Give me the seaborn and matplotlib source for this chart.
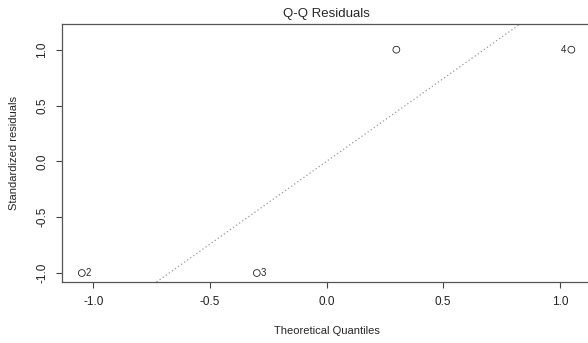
import numpy as np
import pandas as pd
import seaborn as sns
import matplotlib.pyplot as plt

# Q-Q plot of standardized residuals (R style)
theoretical = [-1.049, -0.299, 0.299, 1.049]
residuals = [-1.0, -1.0, 1.0, 1.0]
obs_labels = ["2", "3", "", "4"]

df = pd.DataFrame({'theoretical': theoretical, 'residuals': residuals, 'label': obs_labels})

sns.set_style('white')
plt.rcParams['font.family'] = ['Liberation Sans', 'DejaVu Sans']

fig = plt.figure(figsize=(5.88, 3.43), dpi=100)
ax = fig.add_axes([0.1054, 0.178, 0.9, 0.752])

sns.scatterplot(data=df, x='theoretical', y='residuals', marker='o', s=24,
                facecolors='none', edgecolor='#222222', linewidth=0.6, ax=ax)

# qqline through the quartiles
z = 0.6745
q1, q3 = np.quantile(df['residuals'], [0.25, 0.75])
slope = (q3 - q1) / (2 * z)
intercept = q1 + slope * z
ax.axline((0, intercept), slope=slope, color='#999999', linestyle=(0, (1, 2)), linewidth=0.9)

# label extreme points
for _, row in df.iterrows():
    if row['label'] == '':
        continue
    if row['theoretical'] > 0:
        ax.annotate(row['label'], (row['theoretical'], row['residuals']), xytext=(-3.5, 0),
                    textcoords='offset points', ha='right', va='center', fontsize=7)
    else:
        ax.annotate(row['label'], (row['theoretical'], row['residuals']), xytext=(3, 0),
                    textcoords='offset points', ha='left', va='center', fontsize=7)

ax.set_xlim(-1.134, 1.134)
ax.set_ylim(-1.08, 1.23)
ax.set_xticks([-1.0, -0.5, 0.0, 0.5, 1.0])
ax.set_yticks([-1.0, -0.5, 0.0, 0.5, 1.0])
ax.set_xticklabels(['-1.0', '-0.5', '0.0', '0.5', '1.0'])
ax.set_yticklabels(['-1.0', '-0.5', '0.0', '0.5', '1.0'], rotation=90, va='center')
ax.tick_params(axis='both', direction='out', length=4, width=0.8, color='#444444',
               labelsize=8.5, pad=6, bottom=True, left=True, labelcolor='#222222')
for sp in ax.spines.values():
    sp.set_color('#555555')
    sp.set_linewidth(0.9)

ax.set_title('Q-Q Residuals', fontsize=9.5, pad=5)
ax.set_xlabel('Theoretical Quantiles', fontsize=8, labelpad=13)
ax.set_ylabel('Standardized residuals', fontsize=8, labelpad=12)

fig.savefig('out.png', dpi=100)
